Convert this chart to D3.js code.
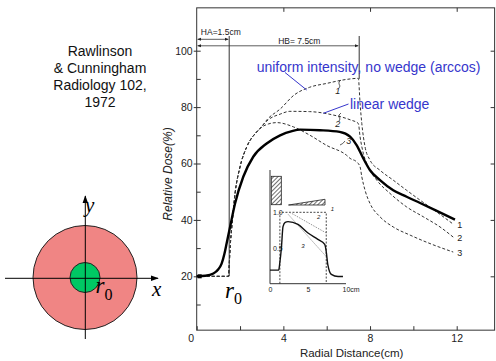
<!DOCTYPE html>
<html>
<head>
<meta charset="utf-8">
<script src="https://cdn.jsdelivr.net/npm/d3@7"></script>
<style>
  body { margin: 0; background: #fff; }
  svg { display: block; font-family: "Liberation Sans", Arial, sans-serif; }
</style>
</head>
<body>
<div id="graph"></div>
<script>
// radial distance (cm), relative dose (%)
const measured = [[0,20],[0.4,20.2],[0.77,21],[1.0,22.5],[1.15,24.5],[1.28,28],[1.38,31.6],[1.54,37.5],[1.77,45.8],
  [2.15,55.3],[2.61,62.4],[3.23,67.1],[3.85,70],[4.4,71.5],[4.77,72],[5.69,71.8],[6.6,71.2],[7.08,69.5],[7.38,66.5],
  [7.69,61.8],[8.0,57.6],[8.46,54.1],[9.07,50.5],[9.69,48.2],[10.31,46],[11.08,43.2],[11.92,40.1]];
const rise = [[0,20],[1.47,20],[1.5,24],[1.55,31],[1.62,37.5],[1.77,49.4],[2.0,58.8],[2.31,65.9],[2.77,71.2],[2.92,72.4]];
const noWedge = rise.concat([[3.3,76],[3.85,79.3],[4.5,84.3],[5.2,87],[6.0,88.4],[6.9,89.8],[7.46,90.2],[7.54,81.3],
  [7.62,74.2],[7.77,65.9],[8.0,61.2],[8.46,57.6],[9.07,54.1],[9.69,50.5],[10.31,47.0],[11.08,42.8],[11.84,38.5]]);
const linearWedge = rise.concat([[3.3,75.5],[3.85,77.5],[4.3,78.5],[5.2,78.4],[6.3,77.2],[7.08,75.5],[7.46,74.2],
  [7.54,69.5],[7.69,63.6],[7.92,58.8],[8.31,54.1],[8.92,49.4],[9.69,44.6],[10.46,41.1],[11.23,37.5],[11.84,33.9]]);
const steepWedge = rise.concat([[3.3,74],[3.7,74.5],[4.46,73],[5.23,70],[6.0,66.4],[6.92,62.9],[7.08,61.8],[7.38,60.6],
  [7.54,58.8],[7.62,55.3],[7.77,50.5],[8.0,45.8],[8.46,41.1],[9.07,37.5],[9.85,34.6],[10.77,31.6],[11.84,28.6]]);
const curveNames = ["1", "2", "3"];
const yTicks = [20, 40, 60, 80, 100];
const yMinor = [10, 30, 50, 70, 90];
const xTicks = [0, 4, 8, 12];
const xMinor = [2, 6, 10];

// inset: relative intensity vs cm
const insetMeasured = [[0,0.19],[1.14,0.19],[1.3,0.3],[1.5,0.5],[1.71,0.8],[2.0,0.86],[2.37,0.87],[3.68,0.83],[5.0,0.71],
  [6.3,0.62],[7.2,0.55],[7.4,0.45],[7.6,0.27],[8.07,0.13],[8.95,0.1],[9.6,0.1]];
const insetUniform = [[1.3,0],[1.3,1.0],[7.4,1.0],[7.4,0]];
const insetLinear = [[2.6,1.0],[7.4,0.71]];
const insetSteep = [[2.4,0.97],[7.4,0.38]];
const insetYTicks = [0.5, 1.0];
const insetXTicks = [0, 5, 10];

const note = ["Rawlinson", "& Cunningham", "Radiology 102,", "1972"];
const blue = "#3636cc";

let svg = d3.select("#graph").append("svg")
  .attr("width", 496)
  .attr("height", 361);

svg.append("rect").attr("width", 496).attr("height", 361).attr("fill", "#fff");

let defs = svg.append("defs");
defs.append("marker")
  .attr("id", "arr")
  .attr("viewBox", "0 0 10 10")
  .attr("refX", 9).attr("refY", 5)
  .attr("markerWidth", 5).attr("markerHeight", 5)
  .attr("orient", "auto-start-reverse")
  .append("path").attr("d", "M0,1L10,5L0,9z").attr("fill", "#222");
defs.append("marker")
  .attr("id", "arrBig")
  .attr("viewBox", "0 0 10 10")
  .attr("refX", 9).attr("refY", 5)
  .attr("markerWidth", 8).attr("markerHeight", 8)
  .attr("orient", "auto")
  .append("path").attr("d", "M0,1.5L10,5L0,8.5z").attr("fill", "#000");
let hatch = defs.append("pattern")
  .attr("id", "hatch")
  .attr("patternUnits", "userSpaceOnUse")
  .attr("width", 3).attr("height", 3)
  .attr("patternTransform", "rotate(45)");
hatch.append("rect").attr("width", 3).attr("height", 3).attr("fill", "#fff");
hatch.append("line").attr("x1", 0).attr("y1", 0).attr("x2", 0).attr("y2", 3)
  .attr("stroke", "#222").attr("stroke-width", 1.3);

// ---- main chart
let x = d3.scaleLinear().domain([0, 12]).range([196.7, 456.7]);
let y = d3.scaleLinear().domain([20, 100]).range([276.3, 50.7]);
let frameL = x(0), frameR = x(13.75), frameT = y(115.2), frameB = y(0.9);

let chart = svg.append("g");

chart.append("rect")
  .attr("x", frameL).attr("y", frameT)
  .attr("width", frameR - frameL).attr("height", frameB - frameT)
  .attr("fill", "none").attr("stroke", "#333").attr("stroke-width", 1);

function styleAxis(g) {
  g.select(".domain").remove();
  g.selectAll(".tick line").attr("stroke", "#333");
  g.selectAll("text").attr("fill", "#222").style("font-size", "10.5px").attr("font-family", null);
}

chart.append("g")
  .attr("transform", "translate(" + frameL + ",0)")
  .call(d3.axisLeft(y).tickValues(yTicks).tickSize(-4).tickPadding(4))
  .call(styleAxis)
  .call(g => g.selectAll(".tick line").attr("x1", -3));
chart.append("g")
  .attr("transform", "translate(" + frameL + ",0)")
  .call(d3.axisLeft(y).tickValues(yMinor).tickSize(-4).tickFormat(""))
  .call(styleAxis);
chart.append("g")
  .attr("transform", "translate(" + frameR + ",0)")
  .call(d3.axisRight(y).tickValues(yTicks).tickSize(-4).tickFormat(""))
  .call(styleAxis);

chart.append("g")
  .attr("transform", "translate(0," + frameB + ")")
  .call(d3.axisBottom(x).tickValues(xTicks).tickSize(-4).tickPadding(4))
  .call(styleAxis)
  .call(g => g.selectAll(".tick text").filter(d => d === 0).attr("x", -6));
chart.append("g")
  .attr("transform", "translate(0," + frameB + ")")
  .call(d3.axisBottom(x).tickValues(xMinor).tickSize(-4).tickFormat(""))
  .call(styleAxis);
chart.append("g")
  .attr("transform", "translate(0," + frameT + ")")
  .call(d3.axisTop(x).tickValues(xTicks.slice(1)).tickSize(-4).tickFormat(""))
  .call(styleAxis);

chart.append("text")
  .attr("transform", "translate(172,174) rotate(-90)")
  .attr("text-anchor", "middle")
  .style("font-size", "12px")
  .style("font-style", "italic")
  .attr("fill", "#222")
  .text("Relative Dose(%)");

chart.append("text")
  .attr("x", 351.7).attr("y", 357)
  .attr("text-anchor", "middle")
  .style("font-size", "11.5px")
  .attr("fill", "#222")
  .text("Radial Distance(cm)");

// HA / HB markers
chart.append("line")
  .attr("x1", x(1.5)).attr("x2", x(1.5)).attr("y1", 36).attr("y2", y(20))
  .attr("stroke", "#333").attr("stroke-width", 1);
chart.append("line")
  .attr("x1", x(7.5)).attr("x2", x(7.5)).attr("y1", 36).attr("y2", y(90))
  .attr("stroke", "#333").attr("stroke-width", 1);
chart.append("line")
  .attr("x1", x(0) + 1).attr("x2", x(1.5) - 1).attr("y1", 39.3).attr("y2", 39.3)
  .attr("stroke", "#333").attr("stroke-width", 0.8)
  .attr("marker-start", "url(#arr)").attr("marker-end", "url(#arr)");
chart.append("line")
  .attr("x1", x(0) + 1).attr("x2", x(7.5) - 1).attr("y1", 45.8).attr("y2", 45.8)
  .attr("stroke", "#333").attr("stroke-width", 0.8)
  .attr("marker-start", "url(#arr)").attr("marker-end", "url(#arr)");
chart.append("text")
  .attr("x", 220.8).attr("y", 34.5)
  .attr("text-anchor", "middle")
  .style("font-size", "8.5px").attr("fill", "#222")
  .text("HA=1.5cm");
chart.append("text")
  .attr("x", 299.3).attr("y", 44)
  .attr("text-anchor", "middle")
  .style("font-size", "8.5px").attr("fill", "#222")
  .text("HB= 7.5cm");

let line = d3.line()
  .x(d => x(d[0]))
  .y(d => y(d[1]))
  .curve(d3.curveMonotoneX);

let dashed = [noWedge, linearWedge, steepWedge];
chart.selectAll("path.calc")
  .data(dashed)
  .enter().append("path")
  .attr("class", "calc")
  .attr("d", line)
  .attr("fill", "none")
  .attr("stroke", "#333")
  .attr("stroke-width", 1)
  .attr("stroke-dasharray", "3,2");

chart.append("path")
  .datum(measured)
  .attr("d", line)
  .attr("fill", "none")
  .attr("stroke", "#000")
  .attr("stroke-width", 2.4);

chart.append("rect")
  .attr("x", x(0) + 1).attr("y", y(20) - 2)
  .attr("width", 4).attr("height", 4)
  .attr("fill", "#000");

// curve numbers at the right end and on the curves
chart.selectAll("text.endlab")
  .data(dashed)
  .enter().append("text")
  .attr("class", "endlab")
  .attr("x", d => x(d[d.length - 1][0]) + 4)
  .attr("y", d => y(d[d.length - 1][1]) + 4)
  .style("font-size", "9px").attr("fill", "#222")
  .text((d, i) => curveNames[i]);

let midLabels = [[6.4, 84.5], [6.4, 72.8], [6.9, 67]];
chart.selectAll("text.midlab")
  .data(midLabels)
  .enter().append("text")
  .attr("class", "midlab")
  .attr("x", d => x(d[0]))
  .attr("y", d => y(d[1]))
  .style("font-size", "9px").style("font-style", "italic").attr("fill", "#222")
  .text((d, i) => curveNames[i]);
chart.append("path")
  .attr("d", "M339,88 q2,-2 0,-4 q-1,-2 2,-4 M339,121 q2,-2 0,-4 q-1,-2 2,-4 M345,141 q-2,3 -5,4")
  .attr("fill", "none").attr("stroke", "#333").attr("stroke-width", 0.8);

// blue annotations
chart.append("text")
  .attr("x", 256.7).attr("y", 71.5)
  .style("font-size", "14px").attr("fill", blue)
  .text("uniform intensity, no wedge (arccos)");
chart.append("line")
  .attr("x1", 285).attr("y1", 72.5).attr("x2", 306.7).attr("y2", 90)
  .attr("stroke", blue).attr("stroke-width", 1);
chart.append("text")
  .attr("x", 350).attr("y", 108.5)
  .style("font-size", "14px").attr("fill", blue)
  .text("linear wedge");
chart.append("line")
  .attr("x1", 348.5).attr("y1", 104).attr("x2", 323.3).attr("y2", 113.3)
  .attr("stroke", blue).attr("stroke-width", 1);

// r0 near the chart
let r0 = chart.append("text")
  .attr("x", 225).attr("y", 298)
  .attr("font-family", "'Liberation Serif', 'DejaVu Serif', serif")
  .attr("fill", "#000");
r0.append("tspan").style("font-size", "23px").style("font-style", "italic").text("r");
r0.append("tspan").attr("dy", 6).style("font-size", "16px").text("0");

// ---- inset
let ix = d3.scaleLinear().domain([0, 10]).range([270, 346]);
let iy = d3.scaleLinear().domain([0, 1]).range([283.7, 212.3]);
let inset = svg.append("g");

inset.append("line")
  .attr("x1", ix(0)).attr("x2", ix(0)).attr("y1", 170).attr("y2", iy(0))
  .attr("stroke", "#333").attr("stroke-width", 1);
inset.append("line")
  .attr("x1", ix(0)).attr("x2", ix(10)).attr("y1", iy(0)).attr("y2", iy(0))
  .attr("stroke", "#333").attr("stroke-width", 1);

inset.append("g")
  .attr("transform", "translate(0," + iy(0) + ")")
  .call(d3.axisBottom(ix).tickValues(insetXTicks).tickSize(0).tickPadding(3)
    .tickFormat(d => d === 10 ? "10cm" : d))
  .call(g => {
    g.select(".domain").remove();
    g.selectAll("text").attr("fill", "#222").style("font-size", "7px").attr("font-family", null);
    g.selectAll(".tick text").filter(d => d === 10).attr("text-anchor", "start").attr("x", -4);
  });
inset.append("g")
  .attr("transform", "translate(" + (ix(0) + 3) + ",0)")
  .call(d3.axisRight(iy).tickValues(insetYTicks).tickSize(0).tickPadding(0)
    .tickFormat(d3.format(".1f")))
  .call(g => {
    g.select(".domain").remove();
    g.selectAll("text").attr("fill", "#222").style("font-size", "7px").attr("font-family", null);
  });

let iline = d3.line().x(d => ix(d[0])).y(d => iy(d[1]));
inset.append("path")
  .datum(insetUniform)
  .attr("d", iline)
  .attr("fill", "none").attr("stroke", "#333")
  .attr("stroke-width", 0.9).attr("stroke-dasharray", "2,1.5");
inset.selectAll("path.iw")
  .data([insetLinear, insetSteep])
  .enter().append("path")
  .attr("class", "iw")
  .attr("d", iline)
  .attr("fill", "none").attr("stroke", "#888")
  .attr("stroke-width", 0.9).attr("stroke-dasharray", "1.5,1.2");
inset.append("path")
  .datum(insetMeasured)
  .attr("d", iline.curve(d3.curveMonotoneX))
  .attr("fill", "none").attr("stroke", "#111").attr("stroke-width", 1.4);

inset.append("rect")
  .attr("x", 271.3).attr("y", 176.3).attr("width", 10).attr("height", 28.4)
  .attr("fill", "url(#hatch)").attr("stroke", "#222").attr("stroke-width", 0.8);
inset.append("path")
  .attr("d", "M288.5,205L325,199.3L325,205Z")
  .attr("fill", "url(#hatch)").attr("stroke", "#222").attr("stroke-width", 0.8);

inset.selectAll("text.ilab")
  .data([[8.0, 1.02], [6.2, 0.9], [4.1, 0.5]])
  .enter().append("text")
  .attr("class", "ilab")
  .attr("x", d => ix(d[0]))
  .attr("y", d => iy(d[1]))
  .style("font-size", "6px").style("font-style", "italic").attr("fill", "#222")
  .text((d, i) => curveNames[i]);

// ---- left panel
let noteG = svg.append("g");
noteG.selectAll("text")
  .data(note)
  .enter().append("text")
  .attr("x", 100)
  .attr("y", (d, i) => 55.5 + i * 17.2)
  .attr("text-anchor", "middle")
  .style("font-size", "14px")
  .attr("fill", "#111")
  .text(d => d);

let cx = 85, cy = 277.5;
let diag = svg.append("g");
diag.append("circle").attr("cx", cx).attr("cy", cy).attr("r", 52)
  .attr("fill", "#f08584").attr("stroke", "#222").attr("stroke-width", 1);
diag.append("circle").attr("cx", cx).attr("cy", cy).attr("r", 15)
  .attr("fill", "#00c864").attr("stroke", "#222").attr("stroke-width", 1);
diag.append("line")
  .attr("x1", 5).attr("y1", cy + 0.8).attr("x2", 158).attr("y2", cy + 0.8)
  .attr("stroke", "#000").attr("stroke-width", 1).attr("marker-end", "url(#arrBig)");
diag.append("line")
  .attr("x1", cx + 0.3).attr("y1", 339).attr("x2", cx + 0.3).attr("y2", 196)
  .attr("stroke", "#000").attr("stroke-width", 1).attr("marker-end", "url(#arrBig)");

let serif = "'Liberation Serif', 'DejaVu Serif', serif";
diag.append("text").attr("x", 152).attr("y", 296)
  .attr("font-family", serif).style("font-size", "21px").style("font-style", "italic")
  .text("x");
diag.append("text").attr("x", 85).attr("y", 212)
  .attr("font-family", serif).style("font-size", "21px").style("font-style", "italic")
  .text("y");
let r0b = diag.append("text").attr("x", 95.5).attr("y", 293)
  .attr("font-family", serif);
r0b.append("tspan").style("font-size", "23px").style("font-style", "italic").text("r");
r0b.append("tspan").attr("dy", 7).style("font-size", "16px").text("0");
</script>
</body>
</html>
